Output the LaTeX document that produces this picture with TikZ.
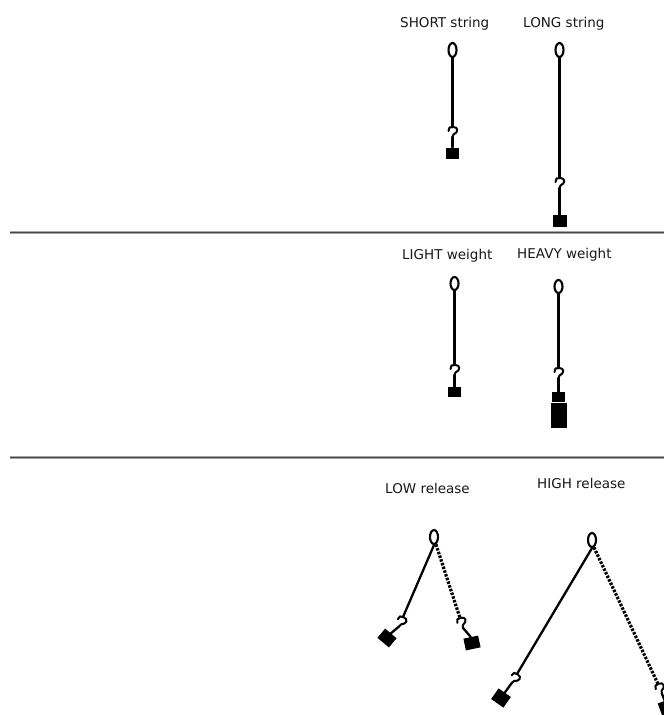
\documentclass[tikz,border=0pt]{standalone}
\usepackage{fontspec}
\setmainfont{DejaVu Sans}
\usetikzlibrary{shapes.geometric}
\begin{document}
\begin{tikzpicture}[x=1pt,y=-1pt,
  caption/.style={anchor=base west, inner sep=0pt, font=\fontsize{13.5}{16}\selectfont, text=black!90},
  eyelet/.style={ellipse, draw, line width=2.1pt, minimum width=8pt, minimum height=14pt, inner sep=0pt},
  cord/.style={line width=2.3pt, line cap=round},
  dotcord/.style={line width=3.2pt, dash pattern=on 2.5pt off 1.4pt},
  bob/.style={fill=black, inner sep=0pt, minimum width=13pt, minimum height=11pt},
  hookline/.style={line width=2pt, line cap=round, line join=round},
  hook/.pic={
    \draw[hookline] (-4,4) -- (-3,0.5) -- (1,0) .. controls (6,0) and (6,5.5) .. (1,7.5) -- (0,10);
    \coordinate (-top) at (0,0);
    \coordinate (-end) at (0,10);
  },
  divider/.style={line width=3pt, draw=black!35},
  dividercore/.style={line width=1.6pt, draw=black!72}
]
\fill[white] (0,0) rectangle (664,715);
\clip (0,0) rectangle (664,715);

% section dividers
\coordinate (d1a) at (10,232.5);
\coordinate (d1b) at (664,232.5);
\coordinate (d2a) at (10,457.5);
\coordinate (d2b) at (664,457.5);
\draw[divider] (d1a) -- (d1b);
\draw[dividercore] (d1a) -- (d1b);
\draw[divider] (d2a) -- (d2b);
\draw[dividercore] (d2a) -- (d2b);

% ---- string length ----
\node[caption] (tShort) at (400,27) {SHORT string};
\node[caption] (tLong) at (523,27) {LONG string};

\node[eyelet] (ringA) at (452.5,50) {};
\pic (hookA) at (452.5,127) {hook};
\node[bob] (bobA) at (452.5,153) {};
\draw[cord] (ringA.south) -- (hookA-top);
\draw[cord] (hookA-end) -- (bobA.north);

\node[eyelet] (ringB) at (559.5,50) {};
\pic (hookB) at (559.5,178) {hook};
\node[bob, minimum width=14pt, minimum height=12pt] (bobB) at (559.5,221) {};
\draw[cord] (ringB.south) -- (hookB-top);
\draw[cord] (hookB-end) -- (bobB.north);

% ---- weight ----
\node[caption] (tLight) at (402,259) {LIGHT weight};
\node[caption] (tHeavy) at (517,258) {HEAVY weight};

\node[eyelet, minimum height=13pt] (ringC) at (454.5,283.5) {};
\pic (hookC) at (454.5,365) {hook};
\node[bob, minimum height=10pt] (bobC) at (454.5,392) {};
\draw[cord] (ringC.south) -- (hookC-top);
\draw[cord] (hookC-end) -- (bobC.north);

\node[eyelet, minimum height=13pt] (ringD) at (558.5,286.5) {};
\pic (hookD) at (558.5,368) {hook};
\node[bob, minimum height=10pt] (bobD) at (558.5,397) {};
\node[bob, minimum width=16pt, minimum height=25pt] (bobE) at (558.5,415.7) {};
\draw[cord] (ringD.south) -- (hookD-top);
\draw[cord] (hookD-end) -- (bobD.north);

% ---- release height ----
\node[caption] (tLow) at (385,493) {LOW release};
\node[caption] (tHigh) at (537,488) {HIGH release};

\node[eyelet] (ringF) at (434,537) {};
\pic[rotate=-22] (hookF) at (403,617) {hook};
\node[bob, minimum width=15pt, minimum height=12pt, rotate=-40] (bobF) at (387,638) {};
\draw[cord] (ringF.south) -- (hookF-top);
\draw[cord] (hookF-end) -- (bobF.north);

\pic[rotate=16] (hookG) at (460,618) {hook};
\node[bob, minimum width=15pt, minimum height=12pt, rotate=12] (bobG) at (472,643) {};
\draw[dotcord] (ringF.-75) -- (hookG-top);
\draw[cord] (hookG-end) -- (bobG.north);

\node[eyelet] (ringH) at (592,540) {};
\pic[rotate=-30] (hookH) at (517,674) {hook};
\node[bob, minimum width=15pt, minimum height=13pt, rotate=-35] (bobH) at (501,698) {};
\draw[cord] (ringH.south) -- (hookH-top);
\draw[cord] (hookH-end) -- (bobH.north);

\pic[rotate=22] (hookI) at (658,684) {hook};
\node[bob, minimum width=15pt, minimum height=13pt, rotate=20] (bobI) at (667,707) {};
\draw[dotcord] (ringH.-75) -- (hookI-top);
\draw[cord] (hookI-end) -- (bobI.north);
\end{tikzpicture}
\end{document}
